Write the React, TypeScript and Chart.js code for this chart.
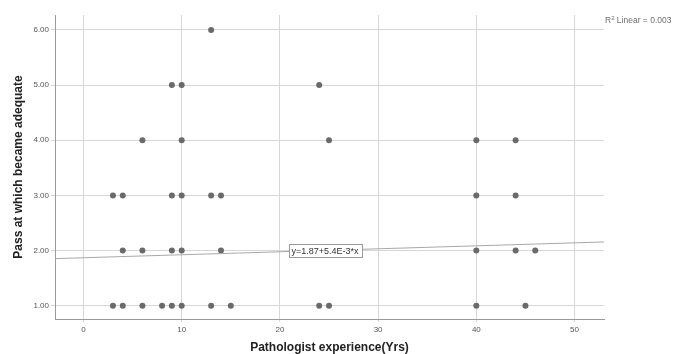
import React, { useEffect, useRef } from "react";
import { Chart, registerables } from "chart.js";
Chart.register(...registerables);

// Pathologist experience (years) for each observed pass value
const passLevels = [1, 2, 3, 4, 5, 6];
const expAtPass1 = [3, 4, 6, 8, 9, 10, 13, 15, 24, 25, 40, 45];
const expAtPass2 = [4, 6, 9, 10, 14, 40, 44, 46];
const expAtPass3 = [3, 4, 9, 10, 13, 14, 40, 44];
const expAtPass4 = [6, 10, 25, 40, 44];
const expAtPass5 = [9, 10, 24];
const expAtPass6 = [13];
const expByPass = [expAtPass1, expAtPass2, expAtPass3, expAtPass4, expAtPass5, expAtPass6];

const xTicks = [0, 10, 20, 30, 40, 50];
const yTicks = [1, 2, 3, 4, 5, 6];

const fitIntercept = 1.87;
const fitSlope = 0.0054;
const fitLabel = "y=1.87+5.4E-3*x";
const fitLabelAtX = 24.6;
const r2Text = "Linear = 0.003";

const X_MIN = -2.9;
const X_MAX = 53;
const Y_MIN = 0.76;
const Y_MAX = 6.27;

const FONT = "'Liberation Sans', Arial, sans-serif";

export default function App() {
  const ref = useRef<HTMLCanvasElement | null>(null);

  useEffect(() => {
    if (!ref.current) return;
    const points: { x: number; y: number }[] = [];
    passLevels.forEach((p, i) => {
      expByPass[i].forEach((x) => points.push({ x, y: p }));
    });
    const fitLine = [
      { x: X_MIN, y: fitIntercept + fitSlope * X_MIN },
      { x: X_MAX, y: fitIntercept + fitSlope * X_MAX },
    ];

    const labelPlugin = {
      id: "labels",
      afterDatasetsDraw(chart: any) {
        const { ctx, chartArea, scales } = chart;
        ctx.save();
        // equation box
        const px = scales.x.getPixelForValue(fitLabelAtX);
        const py = scales.y.getPixelForValue(fitIntercept + fitSlope * fitLabelAtX);
        ctx.font = `9px ${FONT}`;
        const w = ctx.measureText(fitLabel).width + 6;
        const h = 13;
        const bx = Math.round(px - w / 2) + 0.5;
        const by = Math.round(py - h / 2) + 0.5;
        ctx.fillStyle = "#ffffff";
        ctx.fillRect(bx, by, Math.round(w), h);
        ctx.strokeStyle = "#9a9a9a";
        ctx.lineWidth = 1;
        ctx.strokeRect(bx, by, Math.round(w), h);
        ctx.fillStyle = "#333333";
        ctx.textAlign = "center";
        ctx.textBaseline = "middle";
        ctx.fillText(fitLabel, px, py + 1);
        // R² label
        const rx = chartArea.right + 1;
        const ry = chartArea.top + 6;
        ctx.fillStyle = "#707070";
        ctx.textAlign = "left";
        ctx.font = `8.5px ${FONT}`;
        ctx.fillText("R", rx, ry);
        const rw = ctx.measureText("R").width;
        ctx.font = `6px ${FONT}`;
        ctx.fillText("2", rx + rw, ry - 3);
        const sw = ctx.measureText("2").width;
        ctx.font = `8.5px ${FONT}`;
        ctx.fillText(" " + r2Text, rx + rw + sw, ry);
        ctx.restore();
      },
    };

    const chart = new Chart(ref.current, {
      type: "scatter",
      data: {
        datasets: [
          {
            type: "line",
            data: fitLine,
            borderColor: "#a8a8a8",
            borderWidth: 1,
            pointRadius: 0,
            fill: false,
          } as any,
          {
            type: "scatter",
            data: points,
            backgroundColor: "#6a6a6a",
            borderColor: "#6a6a6a",
            pointRadius: 3,
            borderWidth: 0,
          },
        ],
      },
      options: {
        animation: false,
        responsive: true,
        maintainAspectRatio: false,
        layout: { padding: { left: 0, right: 69, top: 15, bottom: 0 } },
        plugins: { legend: { display: false }, tooltip: { enabled: false } },
        scales: {
          x: {
            type: "linear",
            min: X_MIN,
            max: X_MAX,
            afterBuildTicks: (s: any) => {
              s.ticks = xTicks.map((v) => ({ value: v }));
            },
            afterFit: (s: any) => {
              s.height = 35;
            },
            grid: { color: "#d6d6d6", tickColor: "#d6d6d6", tickLength: 3 },
            border: { color: "#9a9a9a" },
            ticks: {
              color: "#555555",
              font: { size: 8, family: FONT },
              padding: 3,
              maxRotation: 0,
              callback: (v: any) => String(v),
            },
            title: {
              display: true,
              text: "Pathologist experience(Yrs)",
              color: "#222222",
              font: { size: 12, weight: "bold", family: FONT },
              padding: { top: 0, bottom: -1 },
            },
          },
          y: {
            type: "linear",
            min: Y_MIN,
            max: Y_MAX,
            afterBuildTicks: (s: any) => {
              s.ticks = yTicks.map((v) => ({ value: v }));
            },
            afterFit: (s: any) => {
              s.width = 55;
            },
            grid: { color: "#d6d6d6", tickColor: "#d6d6d6", tickLength: 4 },
            border: { color: "#9a9a9a" },
            ticks: {
              color: "#555555",
              font: { size: 8, family: FONT },
              padding: 2,
              callback: (v: any) => Number(v).toFixed(2),
            },
            title: {
              display: true,
              text: "Pass at which became adequate",
              color: "#222222",
              font: { size: 12, weight: "bold", family: FONT },
              padding: { top: 11, bottom: 0 },
            },
          },
        },
      },
      plugins: [labelPlugin],
    });
    return () => chart.destroy();
  }, []);

  return (
    <div style={{ position: "absolute", left: 0, top: 0, width: 673, height: 354, background: "#fff" }}>
      <canvas ref={ref} />
    </div>
  );
}
